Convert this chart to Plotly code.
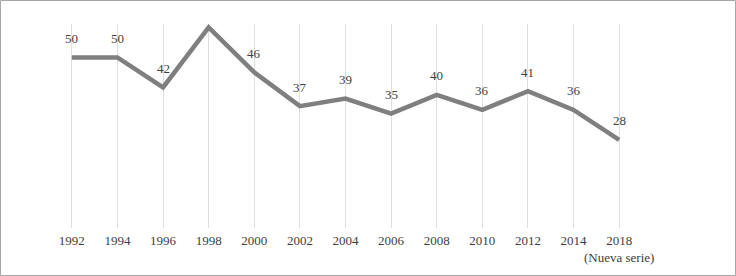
import plotly.graph_objects as go

years = ["1992", "1994", "1996", "1998", "2000", "2002", "2004", "2006",
         "2008", "2010", "2012", "2014", "2018<br>(Nueva serie)"]
values = [50, 50, 42, 58, 46, 37, 39, 35, 40, 36, 41, 36, 28]
labels = ["50", "50", "42", "", "46", "37", "39", "35", "40", "36", "41", "36", "28"]

W, H = 736, 276
ml, mr, mt, mb = 49, 94, 24, 48
pw, ph = W - ml - mr, H - mt - mb
font_family = "Palatino Linotype, Book Antiqua, Liberation Serif, serif"
text_color = "#404040"

fig = go.Figure()
fig.add_trace(go.Scatter(
    x=years, y=values, mode="lines",
    line=dict(color="#7f7f7f", width=4.5),
    hoverinfo="skip", showlegend=False,
))

for i, (y, t) in enumerate(zip(values, labels)):
    if t:
        fig.add_annotation(x=i, y=y, text=t, showarrow=False, yshift=19,
                           font=dict(family=font_family, size=13, color=text_color))

fig.add_shape(type="rect", xref="paper", yref="paper",
              x0=(0.5 - ml) / pw, x1=(W - 0.5 - ml) / pw,
              y0=(mt + ph - (H - 0.5)) / ph, y1=(mt + ph - 0.5) / ph,
              line=dict(color="#a6a6a6", width=1), fillcolor="rgba(0,0,0,0)", layer="below")

fig.update_layout(
    width=W, height=H,
    margin=dict(l=ml, r=mr, t=mt, b=mb, autoexpand=False),
    paper_bgcolor="white", plot_bgcolor="white",
    font=dict(family=font_family, size=13, color=text_color),
    xaxis=dict(type="category", range=[-0.5, len(years) - 0.5],
               showgrid=True, gridcolor="#e0e0e0", gridwidth=1,
               showline=False, zeroline=False, ticks="", fixedrange=True,
               tickangle=0, automargin=False, ticklabelstandoff=3,
               tickfont=dict(family=font_family, size=13, color=text_color)),
    yaxis=dict(range=[4.5, 58.9], visible=False, showgrid=False, zeroline=False,
               automargin=False, fixedrange=True),
)

fig.write_html("out.html", config={"displayModeBar": False},
               post_script="document.body.style.margin='0';document.body.style.overflow='hidden';")
